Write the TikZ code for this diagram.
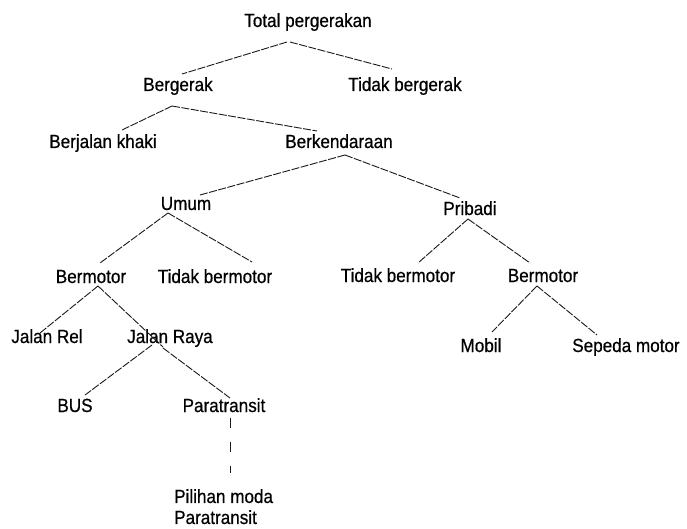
\documentclass[tikz,border=0pt]{standalone}
\usepackage{fontspec}
\setmainfont{Liberation Sans}[FakeStretch=0.9, FakeBold=0.6]
\usepackage{tikz}

\begin{document}
\begin{tikzpicture}[x=1pt, y=-1pt, font=\fontsize{19}{21}\selectfont,
  every node/.style={inner sep=1pt},
  lbl/.style={text height=14pt, text depth=4pt},
  link/.style={draw=black!90, line width=0.9pt, dash pattern=on 8pt off 1.5pt},
  gaplink/.style={draw=black!90, line width=0.9pt, dash pattern=on 10pt off 14pt}]
\useasboundingbox (0,0) rectangle (687,529);
% Levels
\node[lbl] (total) at (308,22) {Total pergerakan};
\node[lbl] (bergerak) at (178,86) {Bergerak};
\node[lbl] (tdkgerak) at (405,86) {Tidak bergerak};
\node[lbl] (jalankaki) at (103,143) {Berjalan khaki};
\node[lbl] (kendaraan) at (339,143) {Berkendaraan};
\node[lbl] (umum) at (186,205) {Umum};
\node[lbl] (pribadi) at (470,210) {Pribadi};
\node[lbl] (umummotor) at (91,278) {Bermotor};
\node[lbl] (umumtdk) at (215,278) {Tidak bermotor};
\node[lbl] (pribaditdk) at (398,277) {Tidak bermotor};
\node[lbl] (pribadimotor) at (543,277) {Bermotor};
\node[lbl] (rel) at (47,338) {Jalan Rel};
\node[lbl] (raya) at (170,338) {Jalan Raya};
\node[lbl] (mobil) at (481,347) {Mobil};
\node[lbl] (sepeda) at (626,347) {Sepeda motor};
\node[lbl] (bus) at (75,407) {BUS};
\node[lbl] (para) at (224,407) {Paratransit};
\node[anchor=north west, align=left] (pilihan) at (173,488) {Pilihan moda\\Paratransit};
% Branches
\draw[link] ([shift={(-21,20)}]total.center) -- ([shift={(4,-12)}]bergerak.center);
\draw[link] ([shift={(-18,20)}]total.center) -- ([shift={(-13,-17)}]tdkgerak.center);
\draw[link] ([shift={(-6,20)}]bergerak.center) -- ([shift={(19,-13)}]jalankaki.center);
\draw[link] ([shift={(-6,20)}]bergerak.center) -- ([shift={(-22,-12)}]kendaraan.center);
\draw[link] ([shift={(6,12)}]kendaraan.center) -- ([shift={(14,-10)}]umum.center);
\draw[link] ([shift={(6,12)}]kendaraan.center) -- ([shift={(-10,-12)}]pribadi.center);
\draw[link] ([shift={(-18,8)}]umum.center) -- ([shift={(9,-15)}]umummotor.center);
\draw[link] ([shift={(-18,8)}]umum.center) -- ([shift={(37,-16)}]umumtdk.center);
\draw[link] ([shift={(-2,9)}]pribadi.center) -- ([shift={(20,-14)}]pribaditdk.center);
\draw[link] ([shift={(-2,9)}]pribadi.center) -- ([shift={(-13,-14)}]pribadimotor.center);
\draw[link] ([shift={(-6,9)}]pribadimotor.center) -- ([shift={(11,-15)}]mobil.center);
\draw[link] ([shift={(-6,9)}]pribadimotor.center) -- ([shift={(-29,-12)}]sepeda.center);
\draw[link] ([shift={(7,8)}]umummotor.center) -- ([shift={(-7,-5)}]rel.center);
\draw[link] ([shift={(7,8)}]umummotor.center) -- ([shift={(-7,9)}]raya.center);
\draw[link] ([shift={(-18,7)}]raya.center) -- ([shift={(10,-12)}]bus.center);
\draw[link] ([shift={(-7,10)}]raya.center) -- ([shift={(6,-9)}]para.center);
\draw[gaplink] ([shift={(6,11)}]para.center) -- ([shift={(57,-15)}]pilihan.north west);
\end{tikzpicture}
\end{document}
